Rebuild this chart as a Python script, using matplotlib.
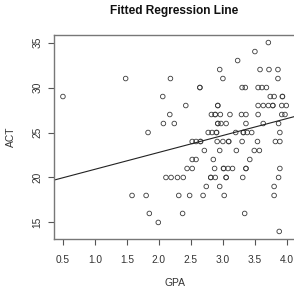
import matplotlib
matplotlib.use("Agg")
import matplotlib.pyplot as plt

# ---------- DATA (grouped by ACT score) ----------
act_rows = [35, 34, 33, 32, 31, 30, 29, 28, 27, 26, 25, 24, 23, 22, 21, 20, 19, 18, 16, 15, 14]
gpa_rows = [
    [3.71],
    [3.50],
    [3.23],
    [2.95, 3.58, 3.72, 3.86],
    [1.48, 2.18, 3.00, 3.86],
    [2.64, 2.64, 3.30, 3.35, 3.55, 3.61, 3.68],
    [0.50, 2.06, 3.74, 3.80, 3.93, 3.93],
    [2.42, 2.92, 2.92, 3.55, 3.63, 3.71, 3.78, 3.78, 3.92, 3.99],
    [2.17, 2.82, 2.88, 2.88, 2.96, 3.11, 3.29, 3.36, 3.55, 3.92, 3.97],
    [2.07, 2.24, 2.92, 2.92, 2.97, 3.05, 3.36, 3.63, 3.87],
    [1.83, 2.77, 2.83, 2.90, 2.90, 3.20, 3.32, 3.32, 3.38, 3.45, 3.89],
    [2.52, 2.58, 2.65, 2.65, 2.91, 3.00, 3.09, 3.09, 3.30, 3.54, 3.82, 3.89],
    [2.71, 2.95, 3.21, 3.49, 3.57],
    [2.52, 2.58, 2.85, 3.42],
    [2.44, 2.52, 2.87, 3.01, 3.01, 3.08, 3.15, 3.36, 3.36, 3.89],
    [2.11, 2.19, 2.29, 2.38, 2.81, 2.81, 2.88, 3.05, 3.05, 3.31, 3.87],
    [2.74, 2.95, 3.80],
    [1.58, 1.80, 2.31, 2.48, 2.69, 3.02, 3.80],
    [1.85, 2.37, 3.34],
    [1.99],
    [3.88],
]

# fitted line ACT = b0 + b1 * GPA
b0 = 19.03
b1 = 1.88

x_ticks = [0.5, 1.0, 1.5, 2.0, 2.5, 3.0, 3.5, 4.0]
y_ticks = [15, 20, 25, 30, 35]

gpa = [g for row in gpa_rows for g in row]
act = [a for a, row in zip(act_rows, gpa_rows) for _ in row]

# ---------- PLOT ----------
plt.rcParams['font.family'] = ['Liberation Sans', 'DejaVu Sans']

fig = plt.figure(figsize=(2.94, 2.91), dpi=100)
ax = fig.add_axes([54/294, 52/291, 241.2/294, 204/291])

ax.scatter(gpa, act, s=11, facecolors='none', edgecolors='#3a3a3a', linewidths=0.6)
ax.axline((0, b0), slope=b1, color='#222222', lw=0.8)

# R style limits: data range +/- 4%
xr = max(gpa) - min(gpa)
yr = max(act) - min(act)
ax.set_xlim(min(gpa) - 0.04 * xr, max(gpa) + 0.04 * xr)
ax.set_ylim(min(act) - 0.04 * yr, max(act) + 0.04 * yr)

ax.set_xticks(x_ticks)
ax.set_xticklabels([f"{t:.1f}" for t in x_ticks])
ax.set_yticks(y_ticks)
ax.set_yticklabels([str(t) for t in y_ticks], rotation=90, va='center')
ax.tick_params(axis='both', length=4.5, width=0.8, color='#555555', labelsize=7.3, labelcolor='#333333')
ax.tick_params(axis='x', pad=7)
ax.tick_params(axis='y', pad=4)

for sp in ax.spines.values():
    sp.set_color('#777777')
    sp.set_linewidth(1.0)

ax.set_xlabel('GPA', fontsize=7.4, color='#333333')
ax.xaxis.set_label_coords(0.5, (239 - 286.5) / 204)
ax.xaxis.label.set_va('baseline')
ax.set_ylabel('ACT', fontsize=7.4, color='#333333')
ax.yaxis.set_label_coords((16 - 54) / 241.2, 0.5)

fig.text(174/294, 1 - 14/291, 'Fitted Regression Line', ha='center', va='baseline',
         fontsize=8.6, fontweight='bold', color='#111111')

fig.savefig('out.png', dpi=100)
